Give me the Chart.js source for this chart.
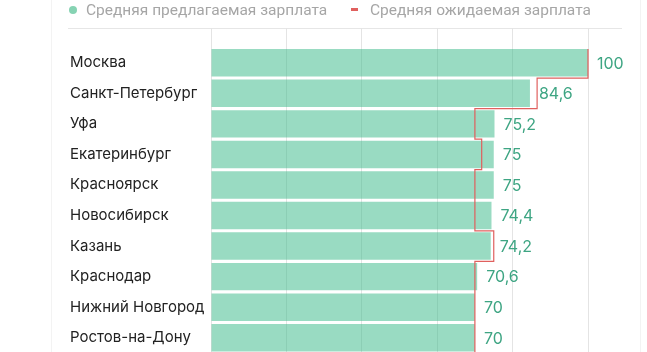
<!DOCTYPE html>
<html>
<head>
<meta charset="utf-8">
<script src="https://cdn.jsdelivr.net/npm/chart.js@4"></script>
<style>
	html, body { margin: 0; padding: 0; background: #fff; }
	#wrap { position: relative; width: 647px; height: 352px; overflow: hidden; }
	#legend { position: absolute; top: 0; left: 0; width: 647px; height: 20px; font: 15.5px Roboto, sans-serif; color: #a6a6a6; }
	.item { position: absolute; top: 1px; white-space: nowrap; line-height: 18px; }
	.dot { display: inline-block; width: 8px; height: 8px; border-radius: 50%; background: #86d3b3; margin-right: 9px; vertical-align: 1px; }
	.dash { display: inline-block; width: 7px; height: 3px; background: #e0605e; margin-right: 12px; vertical-align: 4px; }
</style>
</head>
<body>
<div id="wrap">
	<div id="legend">
		<div class="item" style="left: 69px"><span class="dot"></span>Средняя предлагаемая зарплата</div>
		<div class="item" style="left: 351px"><span class="dash"></span>Средняя ожидаемая зарплата</div>
	</div>
	<canvas id="salary" width="647" height="354"></canvas>
</div>
<script>
// DATA =====================================================

const cities = ["Москва", "Санкт-Петербург", "Уфа", "Екатеринбург", "Красноярск", "Новосибирск", "Казань", "Краснодар", "Нижний Новгород", "Ростов-на-Дону"];
const offered = [100, 84.6, 75.2, 75, 75, 74.4, 74.2, 70.6, 70, 70];
const expected = [100, 86.5, 70, 71.8, 70, 70, 75, 70, 70, 70];

// PLUGINS ==================================================

// expected salary as a red step outline, one vertical piece per row
const expectedSteps = {
	id: "expectedSteps",
	afterDatasetsDraw(chart) {
		const ctx = chart.ctx;
		const x = chart.scales.x;
		const y = chart.scales.y;
		const band = y.getPixelForValue(1) - y.getPixelForValue(0);
		ctx.save();
		ctx.strokeStyle = "#e0605e";
		ctx.lineWidth = 1.2;
		ctx.beginPath();
		for (let i = 0; i < expected.length; i++) {
			const px = x.getPixelForValue(expected[i]);
			const top = y.getPixelForValue(i) - band / 2;
			if (i === 0) ctx.moveTo(px, top + 1.5);
			else ctx.lineTo(px, top);
			ctx.lineTo(px, top + band);
		}
		ctx.stroke();
		ctx.restore();
	},
};

// green value labels at the end of each bar
const valueLabels = {
	id: "valueLabels",
	afterDatasetsDraw(chart) {
		const ctx = chart.ctx;
		const meta = chart.getDatasetMeta(0);
		ctx.save();
		ctx.font = "16px Inter";
		ctx.fillStyle = "#3ea583";
		ctx.textBaseline = "middle";
		meta.data.forEach((bar, i) => {
			ctx.fillText(String(offered[i]).replace(".", ","), bar.x + 9, bar.y + 1);
		});
		ctx.restore();
	},
};

// header rule and the faint frame of the card
const frame = {
	id: "frame",
	beforeDraw(chart) {
		const ctx = chart.ctx;
		ctx.save();
		ctx.strokeStyle = "#f3f3f3";
		ctx.lineWidth = 1;
		ctx.beginPath();
		ctx.moveTo(51.5, 0);
		ctx.lineTo(51.5, 354);
		ctx.moveTo(640.5, 0);
		ctx.lineTo(640.5, 354);
		ctx.stroke();
		ctx.strokeStyle = "#e6e6e6";
		ctx.beginPath();
		ctx.moveTo(68, 28.5);
		ctx.lineTo(622, 28.5);
		ctx.stroke();
		ctx.restore();
	},
};

// CHART ====================================================

new Chart(document.getElementById("salary"), {
	type: "bar",
	data: {
		labels: cities,
		datasets: [
			{
				label: "Средняя предлагаемая зарплата",
				data: offered,
				backgroundColor: "rgba(52, 184, 134, 0.5)",
				borderWidth: 0,
				barPercentage: 0.9,
				categoryPercentage: 1,
			},
		],
	},
	options: {
		indexAxis: "y",
		responsive: false,
		animation: false,
		layout: { padding: { top: 28, left: 70, right: 59, bottom: 1 } },
		plugins: { legend: { display: false }, tooltip: { enabled: false } },
		scales: {
			x: {
				position: "top",
				min: 0,
				max: 100,
				ticks: { display: false, stepSize: 20 },
				grid: { color: "#e4e4e4", tickLength: 19.5, drawTicks: true },
				border: { display: false },
			},
			y: {
				ticks: { color: "#222", font: { family: "Inter", size: 15 }, crossAlign: "far", padding: 0 },
				grid: { display: false },
				border: { display: false },
				afterFit(scale) {
					scale.width = 141;
					scale.paddingTop = 0;
					scale.paddingBottom = 0;
				},
			},
		},
	},
	plugins: [frame, expectedSteps, valueLabels],
});
</script>
</body>
</html>
